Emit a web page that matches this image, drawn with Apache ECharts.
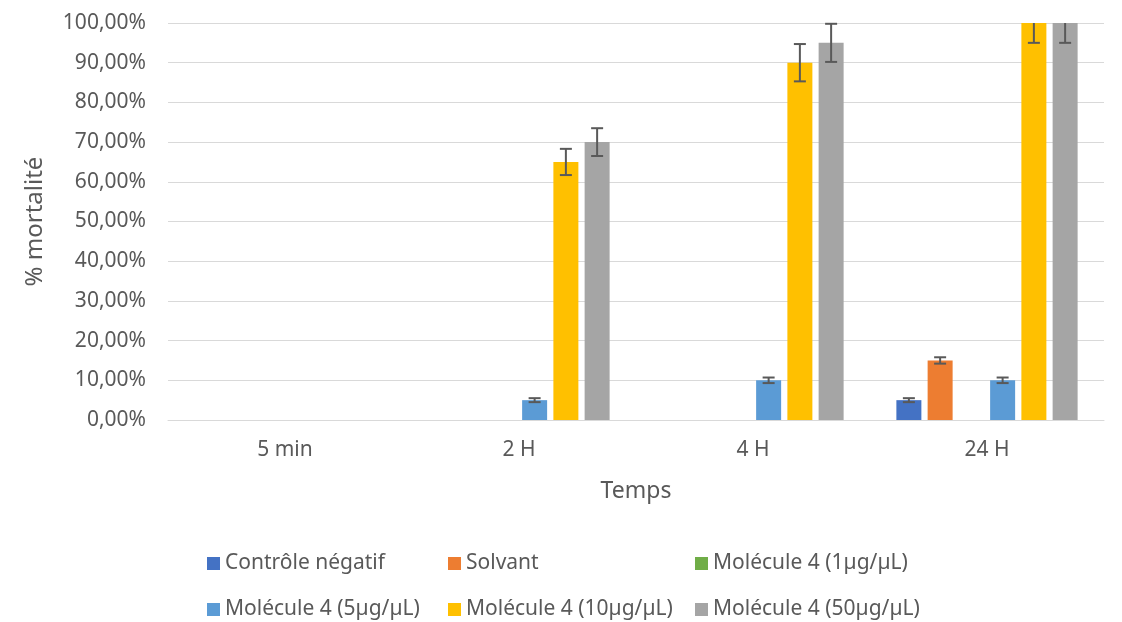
<!DOCTYPE html>
<html>
<head>
<meta charset="utf-8">
<script src="https://cdn.jsdelivr.net/npm/echarts@6/dist/echarts.min.js"></script>
<style>
html,body{margin:0;padding:0;background:#fff;}
#chart{width:1122px;height:622px;}
</style>
</head>
<body>
<div id="chart"></div>
<script>
const categories = ['5 min', '2 H', '4 H', '24 H'];
const seriesNames = ['Contrôle négatif', 'Solvant', 'Molécule 4 (1µg/µL)', 'Molécule 4 (5µg/µL)', 'Molécule 4 (10µg/µL)', 'Molécule 4 (50µg/µL)'];
const controleNegatif = [0, 0, 0, 5];
const solvant = [0, 0, 0, 15];
const mol1 = [0, 0, 0, 0];
const mol5 = [0, 5, 10, 10];
const mol10 = [0, 65, 90, 100];
const mol50 = [0, 70, 95, 100];
const errControle = [0, 0, 0, 0.5];
const errSolvant = [0, 0, 0, 0.8];
const errMol1 = [0, 0, 0, 0];
const errMol5 = [0, 0.5, 0.7, 0.7];
const errMol10 = [0, 3.3, 4.7, 5];
const errMol50 = [0, 3.5, 4.8, 5];
const yTicks = [0, 10, 20, 30, 40, 50, 60, 70, 80, 90, 100];

const values = [controleNegatif, solvant, mol1, mol5, mol10, mol50];
const errors = [errControle, errSolvant, errMol1, errMol5, errMol10, errMol50];
const colors = ['#4472C4', '#ED7D31', '#70AD47', '#5B9BD5', '#FFC000', '#A5A5A5'];
const FONT = '"Noto Sans", sans-serif';
const TXT = '#595959';
const BAR_W = 25, BAR_GAP = 0.25;
const Y_MAX = yTicks[yTicks.length - 1];

const series = [];
values.forEach((v, i) => {
  series.push({
    name: seriesNames[i], type: 'bar', data: v, barWidth: BAR_W, barGap: (BAR_GAP * 100) + '%',
    itemStyle: { color: colors[i] }, animation: false
  });
});
values.forEach((v, i) => {
  const errData = v.map((val, k) => [k, val, errors[i][k]]);
  series.push({
    type: 'custom', name: seriesNames[i] + ' err', silent: true, animation: false, z: 10,
    data: errData,
    renderItem: function (params, api) {
      const k = api.value(0), val = api.value(1), e = api.value(2);
      if (!e) return null;
      const pitch = BAR_W * (1 + BAR_GAP);
      const off = (i - (values.length - 1) / 2) * pitch;
      const hiVal = Math.min(val + e, Y_MAX);
      const lo = api.coord([k, val - e]);
      const hi = api.coord([k, hiVal]);
      const x = lo[0] + off;
      const cap = 6;
      const st = { stroke: '#595959', lineWidth: 2 };
      const children = [
        { type: 'line', shape: { x1: x, y1: lo[1], x2: x, y2: hi[1] }, style: st },
        { type: 'line', shape: { x1: x - cap, y1: lo[1], x2: x + cap, y2: lo[1] }, style: st }
      ];
      if (val + e <= Y_MAX) children.push({ type: 'line', shape: { x1: x - cap, y1: hi[1], x2: x + cap, y2: hi[1] }, style: st });
      return { type: 'group', children: children };
    }
  });
});

const legendPos = [[207, 553], [448, 553], [695, 553], [207, 599], [448, 599], [695, 599]];
const legends = seriesNames.map((n, i) => ({
  data: [n], left: legendPos[i][0], top: legendPos[i][1], itemWidth: 13, itemHeight: 13, itemGap: 0,
  icon: 'rect', selectedMode: false, padding: 0,
  textStyle: { color: TXT, fontSize: 21, fontFamily: FONT }
}));

const chart = echarts.init(document.getElementById('chart'), null, { renderer: 'canvas' });
chart.setOption({
  backgroundColor: '#fff',
  animation: false,
  legend: legends,
  grid: { left: 168, right: 18, top: 23, bottom: 202, containLabel: false },
  xAxis: {
    type: 'category', data: categories,
    name: 'Temps', nameLocation: 'middle', nameGap: 60,
    nameTextStyle: { color: TXT, fontSize: 23, fontFamily: FONT },
    axisLine: { lineStyle: { color: '#D9D9D9', width: 1 } },
    axisTick: { show: false },
    axisLabel: { color: TXT, fontSize: 21, fontFamily: FONT, margin: 20 }
  },
  yAxis: {
    type: 'value', min: 0, max: Y_MAX, interval: 10,
    name: '% mortalité', nameLocation: 'middle', nameGap: 121, nameRotate: 90,
    nameTextStyle: { color: TXT, fontSize: 24, fontFamily: FONT },
    axisLine: { show: false }, axisTick: { show: false },
    splitLine: { lineStyle: { color: '#D9D9D9', width: 1 } },
    axisLabel: { color: TXT, fontSize: 21, fontFamily: FONT, margin: 22,
      formatter: v => v.toFixed(2).replace('.', ',') + '%' }
  },
  series: series
});
</script>
</body>
</html>
